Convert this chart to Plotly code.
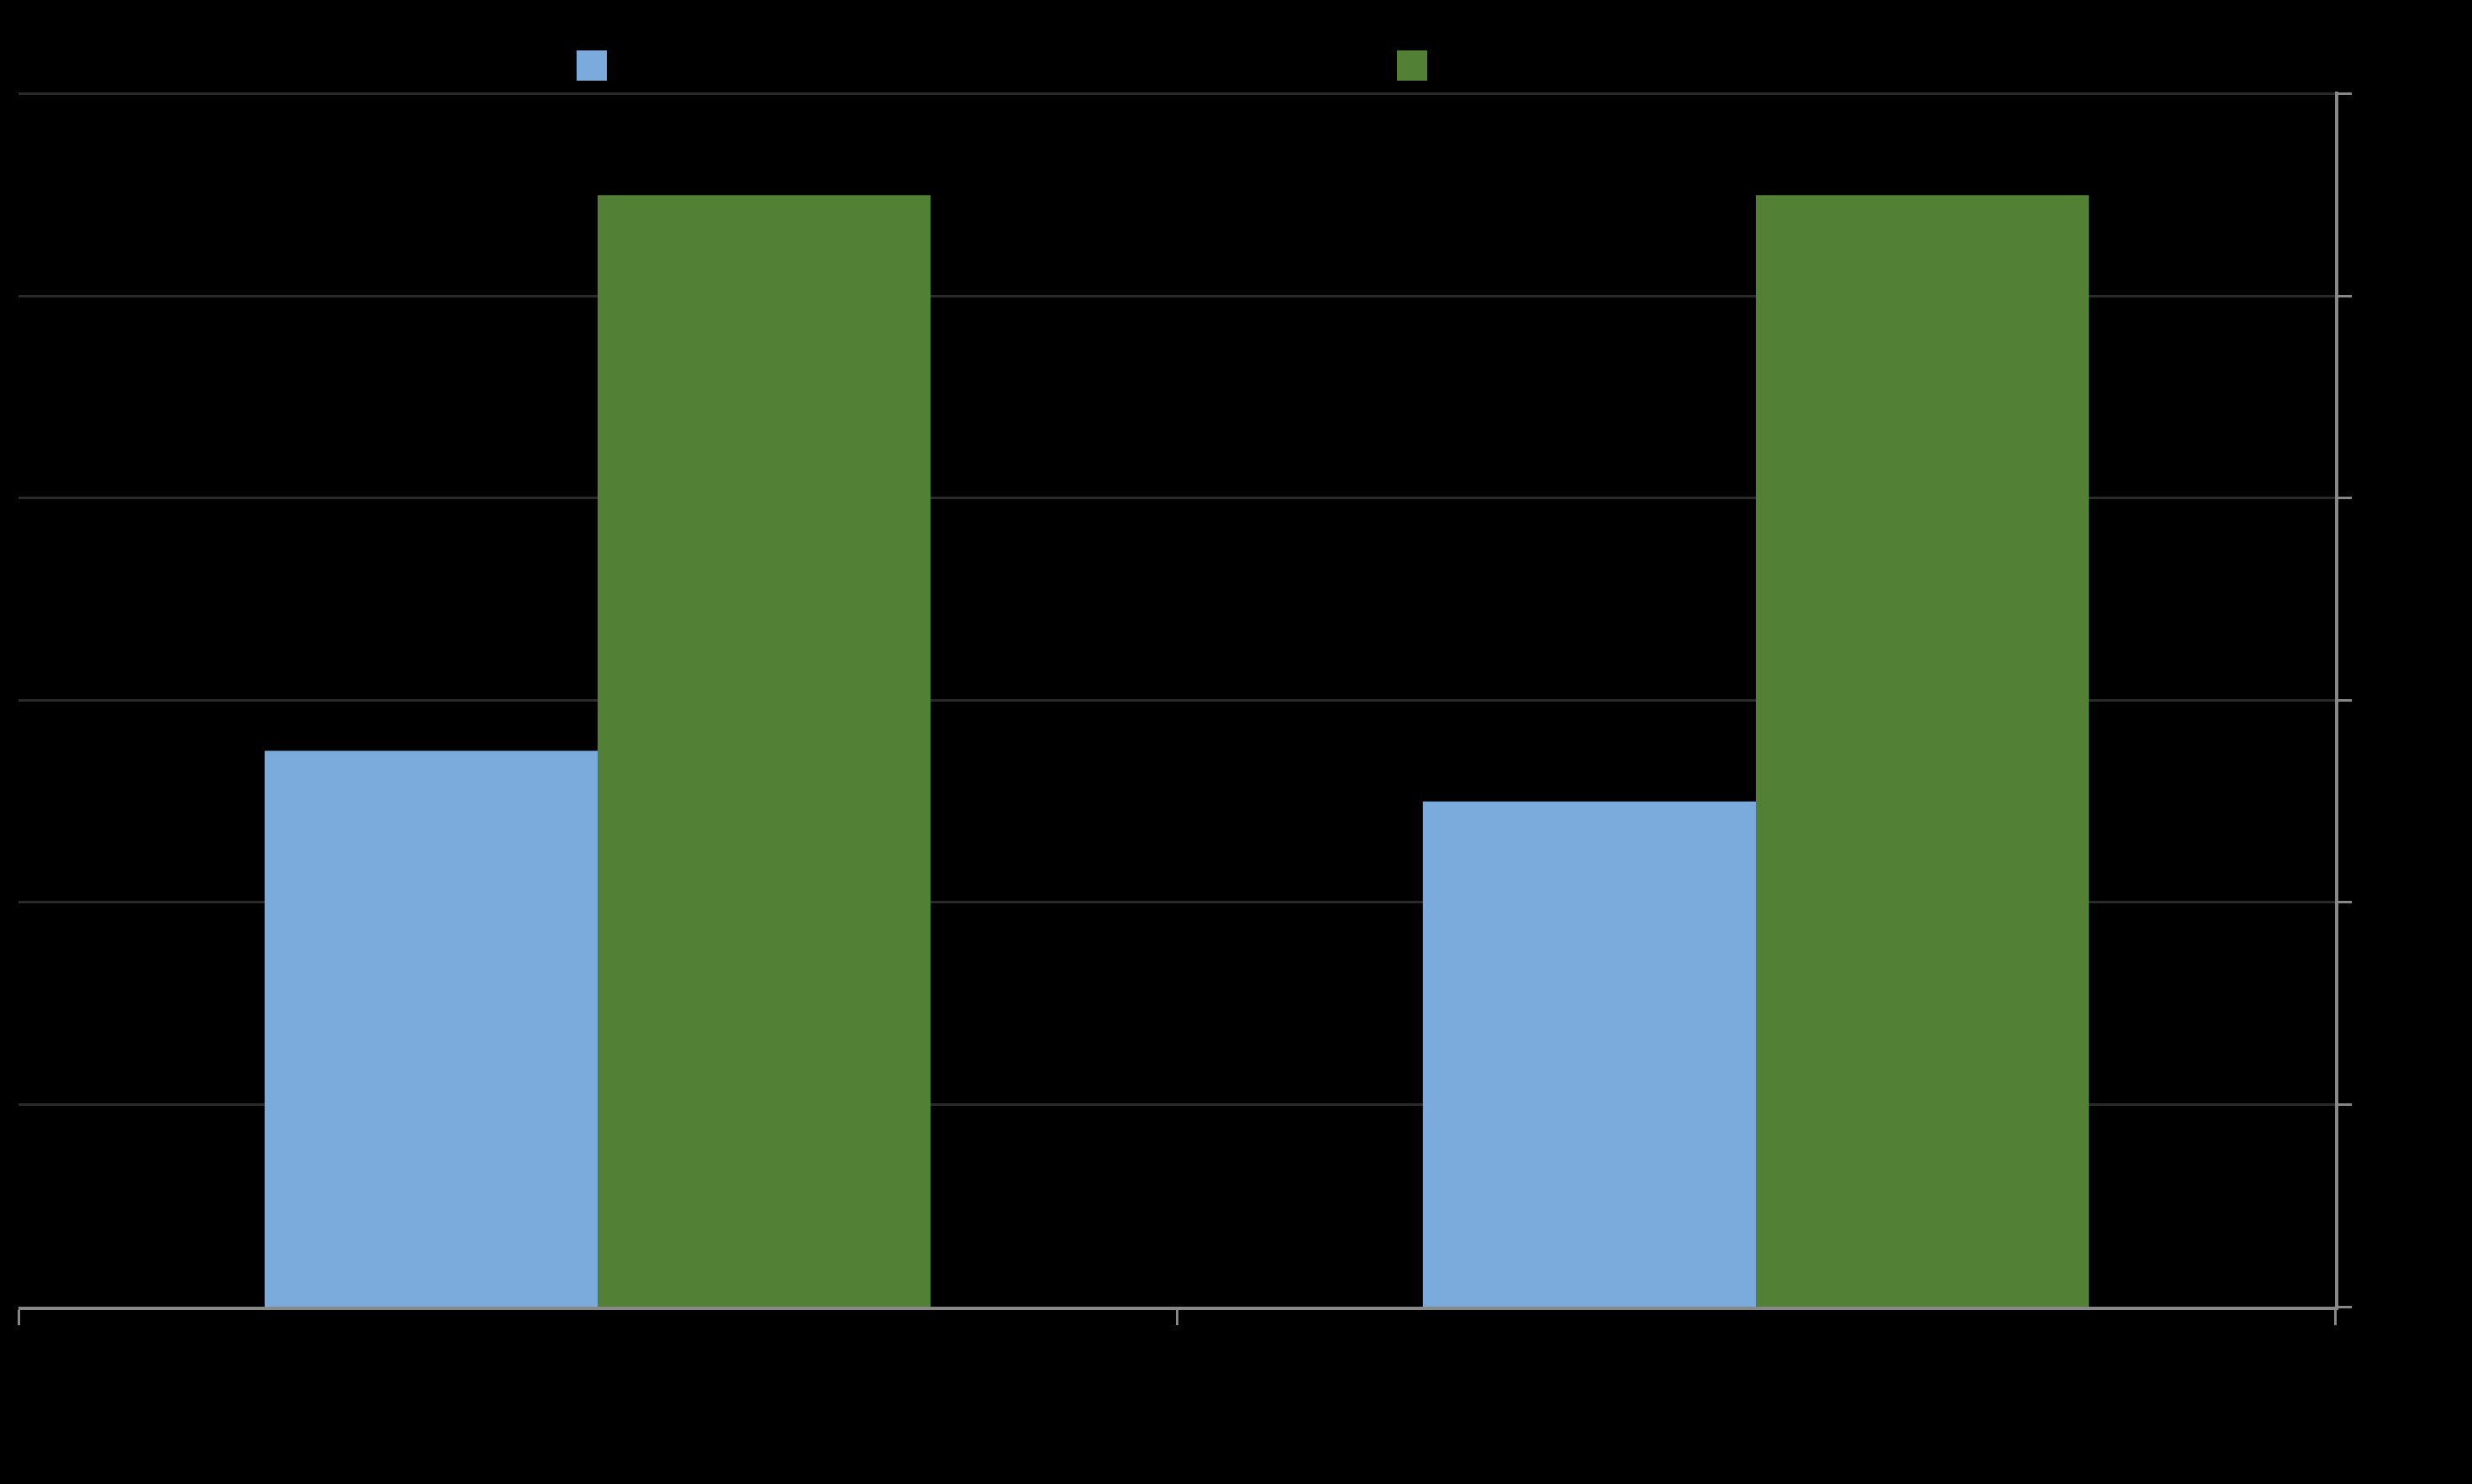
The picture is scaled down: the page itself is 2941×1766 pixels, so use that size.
import plotly.graph_objects as go

# ---- data ----
categories = ["Category 1", "Category 2"]
series_names = ["Series 1", "Series 2"]
series1_values = [27.5, 25.0]
series2_values = [55.0, 55.0]
y_ticks = [0, 10, 20, 30, 40, 50, 60]
y_max = 60.12

colors = ["#7BABDC", "#528135"]
BG = "#000000"
AXIS_GREY = "#888888"
GRID = "#2A2A2A"

W, H = 2941, 1766
ML, MR, MT, MB = 22, 163, 109, 211

fig = go.Figure()
for name, vals, col in zip(series_names, [series1_values, series2_values], colors):
    fig.add_trace(go.Bar(
        x=categories, y=vals, name=name,
        marker=dict(color=col, line=dict(width=0)),
        showlegend=False,
    ))

# legend swatches (legend text in original is black on black)
sw = 36
for i, col in enumerate(colors):
    x0 = [686, 1662][i]
    fig.add_shape(type="rect", xref="paper", yref="paper",
                  x0=(x0 - ML) / (W - ML - MR), x1=(x0 + sw - ML) / (W - ML - MR),
                  y0=1 + (MT - 60 - sw) / (H - MT - MB), y1=1 + (MT - 60) / (H - MT - MB),
                  fillcolor=col, line=dict(width=0), layer="above")

fig.update_layout(
    width=W, height=H,
    margin=dict(l=ML, r=MR, t=MT, b=MB, autoexpand=False),
    paper_bgcolor=BG, plot_bgcolor=BG,
    barmode="group", bargap=0.425, bargroupgap=0,
    font=dict(family="Liberation Sans", size=26, color="#000000"),
    showlegend=False,
)
fig.update_xaxes(
    showline=True, linecolor=AXIS_GREY, linewidth=4,
    ticks="outside", tickson="boundaries", ticklen=18, tickwidth=3, tickcolor=AXIS_GREY,
    showgrid=False, tickfont=dict(color="#000000"), automargin=False,
    range=[-0.5, 1.5],
)
fig.update_yaxes(
    side="right", range=[0, y_max], tickvals=y_ticks,
    showline=True, linecolor=AXIS_GREY, linewidth=4,
    ticks="outside", ticklen=16, tickwidth=3, tickcolor=AXIS_GREY,
    showgrid=True, gridcolor=GRID, gridwidth=3, zeroline=False,
    tickfont=dict(color="#000000"), automargin=False,
)

fig.write_html(
    "out.html",
    config={"displayModeBar": False},
    post_script="document.body.style.margin='0';document.body.style.background='#000';",
)
